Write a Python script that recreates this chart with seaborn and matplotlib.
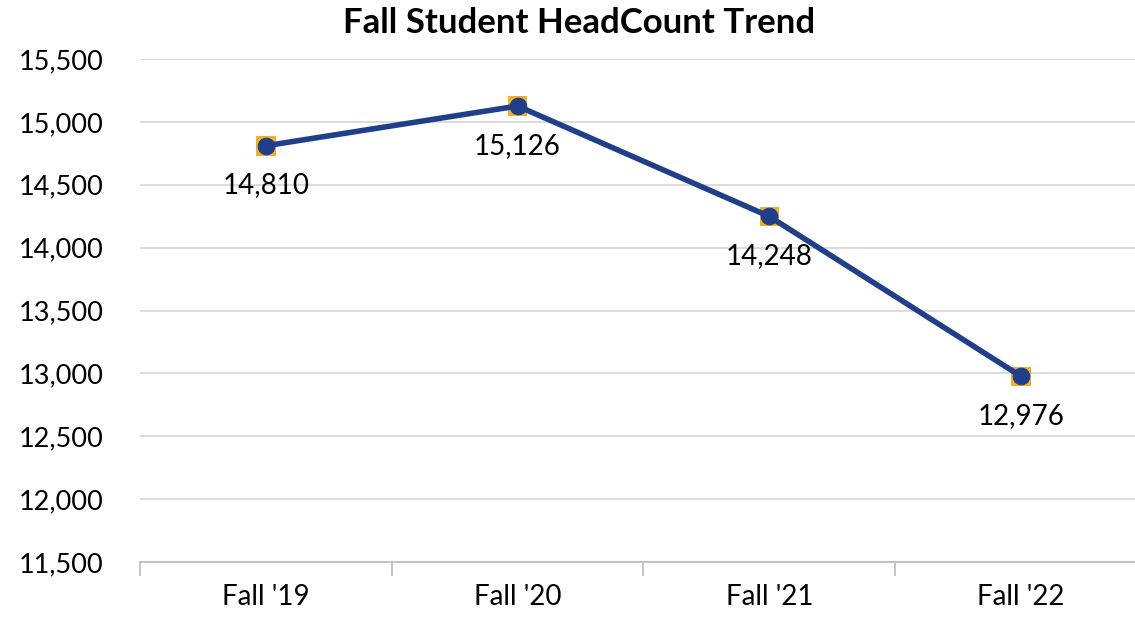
import matplotlib
matplotlib.use("Agg")
import matplotlib.pyplot as plt
import seaborn as sns
import pandas as pd

# chart data
terms = ["Fall '19", "Fall '20", "Fall '21", "Fall '22"]
headcount = [14810, 15126, 14248, 12976]
y_ticks = [11500, 12000, 12500, 13000, 13500, 14000, 14500, 15000, 15500]

df = pd.DataFrame({"term": terms, "headcount": headcount})

sns.set_style("white")
plt.rcParams["font.family"] = ["Lato", "DejaVu Sans"]
plt.rcParams["text.color"] = "black"
plt.rcParams["xtick.color"] = "black"
plt.rcParams["ytick.color"] = "black"

fig = plt.figure(figsize=(11.35, 6.17), dpi=100)
ax = fig.add_axes([0.1233, 0.0891, 1147 / 1135 - 0.1233, 0.9044 - 0.0891])

navy = "#203F8A"
orange = "#F2B028"

# orange squares behind the navy circles
sns.scatterplot(data=df, x="term", y="headcount", marker="s", s=200,
                color=orange, edgecolor="none", ax=ax, zorder=3)
sns.lineplot(data=df, x="term", y="headcount", color=navy, linewidth=4,
             marker="o", markersize=12, markeredgecolor=navy, ax=ax,
             zorder=4, sort=False)

for i, v in enumerate(headcount):
    ax.annotate(f"{v:,}", (i, v), xytext=(0, -38), textcoords="offset points",
                ha="center", va="bottom", fontsize=20, color="black")

ax.set_xlim(-0.5, 3.5)
ax.set_ylim(11500, 15500)
ax.set_yticks(y_ticks)
ax.set_yticklabels([f"{t:,}" for t in y_ticks], fontsize=19.5)
ax.yaxis.grid(True, color="#d9d9d9", linewidth=1.3)
ax.set_axisbelow(True)

# category boundary ticks on the x axis
ax.set_xticks(range(len(terms)))
ax.set_xticklabels(terms, fontsize=20)
ax.set_xticks([-0.5, 0.5, 1.5, 2.5, 3.5], minor=True)
ax.tick_params(axis="x", which="major", bottom=False, length=0, pad=16)
ax.tick_params(axis="x", which="minor", bottom=True, length=10,
               color="#bfbfbf", width=1.3)
ax.tick_params(axis="y", left=False, length=0, pad=26)

for side in ["top", "right", "left"]:
    ax.spines[side].set_visible(False)
ax.spines["bottom"].set_color("#bfbfbf")
ax.spines["bottom"].set_linewidth(1.3)

ax.set_xlabel("")
ax.set_ylabel("")
fig.text(0.51, 0.962, "Fall Student HeadCount Trend", fontsize=25,
         fontweight="bold", color="black", ha="center", va="center")

fig.savefig("out.png", dpi=100)
